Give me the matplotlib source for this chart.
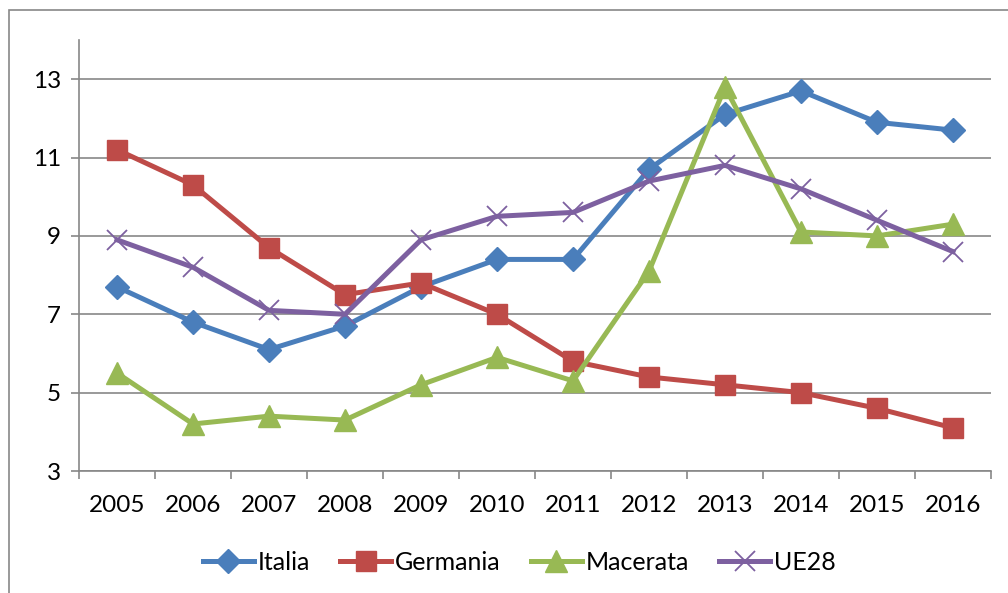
import matplotlib.pyplot as plt
import numpy as np
from matplotlib.patches import Rectangle

years = ["2005", "2006", "2007", "2008", "2009", "2010",
         "2011", "2012", "2013", "2014", "2015", "2016"]
italia = [7.7, 6.8, 6.1, 6.7, 7.7, 8.4, 8.4, 10.7, 12.1, 12.7, 11.9, 11.7]
germania = [11.2, 10.3, 8.7, 7.5, 7.8, 7.0, 5.8, 5.4, 5.2, 5.0, 4.6, 4.1]
macerata = [5.5, 4.2, 4.4, 4.3, 5.2, 5.9, 5.3, 8.1, 12.8, 9.1, 9.0, 9.3]
ue28 = [8.9, 8.2, 7.1, 7.0, 8.9, 9.5, 9.6, 10.4, 10.8, 10.2, 9.4, 8.6]
yticks = [3, 5, 7, 9, 11, 13]

plt.rcParams['font.family'] = ['Lato', 'DejaVu Sans']
grey = '#878787'

fig = plt.figure(figsize=(10.08, 5.93), dpi=100)
ax = fig.add_axes([79 / 1008, 1 - 471 / 593, 912 / 1008, 431 / 593])

x = np.arange(len(years))
lw = 3.6
ax.plot(x, italia, color='#4A7EBB', lw=lw, marker='D', ms=12, label='Italia')
ax.plot(x, germania, color='#BE4B48', lw=lw, marker='s', ms=14, label='Germania')
ax.plot(x, macerata, color='#98B954', lw=lw, marker='^', ms=16, label='Macerata')
ax.plot(x, ue28, color='#7D60A0', lw=lw, marker='x', ms=14, mew=1.3, label='UE28')

ax.set_xlim(-0.5, len(years) - 0.5)
ax.set_ylim(3, 14)
ax.set_yticks(yticks)
ax.set_xticks(x)
ax.set_xticklabels(years)
ax.set_xticks(np.arange(-0.5, len(years)), minor=True)
ax.tick_params(axis='x', which='major', length=0, pad=17, labelsize=17.5)
ax.tick_params(axis='x', which='minor', length=6, color=grey, width=1.2)
ax.tick_params(axis='y', length=6, color=grey, width=1.2, pad=7, labelsize=17.5)

ax.grid(axis='y', color=grey, lw=1.2)
ax.set_axisbelow(True)
for s in ['top', 'right']:
    ax.spines[s].set_visible(False)
for s in ['left', 'bottom']:
    ax.spines[s].set_color(grey)
    ax.spines[s].set_linewidth(1.2)

fig.legend(loc='center', bbox_to_anchor=(0.515, 1 - 562 / 593), ncol=4, frameon=False,
           fontsize=18, handlelength=2.05, handletextpad=0.15, columnspacing=1.2)

fig.patches.append(Rectangle((9 / 1008, -0.05), 1.1, 1 - 10 / 593 + 0.05,
                             transform=fig.transFigure, fill=False,
                             edgecolor=grey, lw=1.2))

fig.savefig('out.png', dpi=100)
